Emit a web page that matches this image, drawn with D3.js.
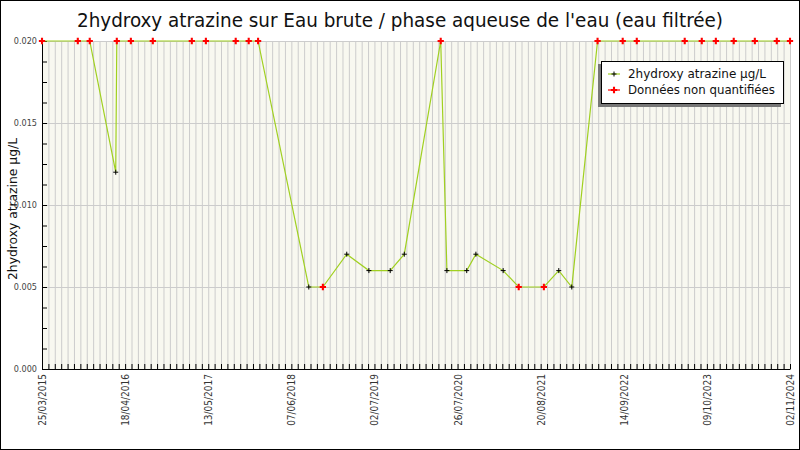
<!DOCTYPE html>
<html>
<head>
<meta charset="utf-8">
<script src="https://cdn.jsdelivr.net/npm/d3@7"></script>
<style>
  body { margin: 0; background: #fff; }
  svg { display: block; font-family: "DejaVu Sans", sans-serif; }
</style>
</head>
<body>
<div id="chart"></div>
<script>
// sample dates, values and whether the value was quantified (false = red "non quantifiée")
const sampleDates = [
  "2015-03-25", "2015-09-09", "2015-11-04", "2016-03-05", "2016-03-10",
  "2016-05-15", "2016-08-26", "2017-02-25", "2017-05-02", "2017-09-19",
  "2017-11-19", "2018-01-02", "2018-08-28", "2018-11-02", "2019-02-22",
  "2019-06-06", "2019-09-14", "2019-11-19", "2020-05-08", "2020-06-06",
  "2020-09-07", "2020-10-20", "2021-02-25", "2021-05-09", "2021-09-04",
  "2021-11-13", "2022-01-13", "2022-05-14", "2022-09-09", "2022-11-14",
  "2023-06-27", "2023-09-15", "2023-11-20", "2024-02-12", "2024-05-21",
  "2024-09-01", "2024-11-02"
];
const sampleValues = [
  0.020, 0.020, 0.020, 0.012, 0.020,
  0.020, 0.020, 0.020, 0.020, 0.020,
  0.020, 0.020, 0.005, 0.005, 0.007,
  0.006, 0.006, 0.007, 0.020, 0.006,
  0.006, 0.007, 0.006, 0.005, 0.005,
  0.006, 0.005, 0.020, 0.020, 0.020,
  0.020, 0.020, 0.020, 0.020, 0.020,
  0.020, 0.020
];
const quantified = [
  false, false, false, true, false,
  false, false, false, false, false,
  false, false, true, false, true,
  true, true, true, false, true,
  true, true, true, false, false,
  true, true, false, false, false,
  false, false, false, false, false,
  false, false
];
const xTickLabels = [
  "25/03/2015", "18/04/2016", "13/05/2017", "07/06/2018", "02/07/2019",
  "26/07/2020", "20/08/2021", "14/09/2022", "09/10/2023", "02/11/2024"
];
const yTicks = [0, 0.005, 0.010, 0.015, 0.020];

const WIDTH = 800;
const HEIGHT = 450;
const LEFT = 42, RIGHT = 790, TOP = 41, BOTTOM = 369;

const parseDate = d3.utcParse("%Y-%m-%d");
const parseLabel = d3.utcParse("%d/%m/%Y");
const fmtLabel = d3.utcFormat("%d/%m/%Y");

const data = sampleDates.map((d, i) => ({
  date: parseDate(d),
  value: sampleValues[i],
  q: quantified[i]
}));
const majorTicks = xTickLabels.map(parseLabel);
const start = majorTicks[0];
const end = majorTicks[majorTicks.length - 1];
// minor ticks every 30 days
const minorTicks = [];
for (let t = start; t <= end; t = d3.utcDay.offset(t, 30)) minorTicks.push(t);

const svg = d3.select("#chart").append("svg")
  .attr("width", WIDTH)
  .attr("height", HEIGHT);

svg.append("rect")
  .attr("x", 0.5).attr("y", 0.5)
  .attr("width", WIDTH - 1).attr("height", HEIGHT - 1)
  .attr("fill", "#fff").attr("stroke", "#000");

const xScale = d3.scaleUtc().domain([start, end]).range([LEFT, RIGHT]);
const yScale = d3.scaleLinear().domain([0, 0.02]).range([BOTTOM, TOP]);

// plot background
svg.append("rect")
  .attr("x", LEFT).attr("y", TOP)
  .attr("width", RIGHT - LEFT).attr("height", BOTTOM - TOP)
  .attr("fill", "#f8f8f0");

// vertical grid
svg.append("g")
  .attr("transform", `translate(0, ${BOTTOM})`)
  .call(d3.axisBottom(xScale).tickValues(minorTicks).tickSize(-(BOTTOM - TOP)).tickFormat(""))
  .call(g => g.select(".domain").remove())
  .call(g => g.selectAll("line").attr("stroke", "#cccccc"));

// horizontal grid
svg.append("g")
  .attr("transform", `translate(${LEFT}, 0)`)
  .call(d3.axisLeft(yScale).tickValues(yTicks.slice(1)).tickSize(-(RIGHT - LEFT)).tickFormat(""))
  .call(g => g.select(".domain").remove())
  .call(g => g.selectAll("line").attr("stroke", "#cccccc"));

// x axis: small inside ticks + rotated labels
svg.append("g")
  .attr("transform", `translate(0, ${BOTTOM})`)
  .call(d3.axisBottom(xScale).tickValues(minorTicks).tickSize(-5).tickSizeOuter(0).tickFormat(""))
  .call(g => g.select(".domain").attr("stroke", "#000"));

svg.append("g")
  .attr("transform", `translate(0, ${BOTTOM})`)
  .call(d3.axisBottom(xScale).tickValues(majorTicks).tickSize(0).tickFormat(fmtLabel))
  .call(g => g.select(".domain").remove())
  .call(g => g.selectAll("text")
    .attr("transform", "rotate(-90)")
    .attr("text-anchor", "end")
    .attr("x", -5).attr("y", 0).attr("dy", "0.35em")
    .attr("font-family", "DejaVu Sans Condensed, DejaVu Sans, sans-serif")
    .attr("font-size", 10)
    .attr("fill", "#333"));

// y axis
const yMinor = d3.range(0, 17).map(i => i * 0.00125);
svg.append("g")
  .attr("transform", `translate(${LEFT}, 0)`)
  .call(d3.axisLeft(yScale).tickValues(yMinor).tickSize(-5).tickSizeOuter(0).tickFormat(""))
  .call(g => g.select(".domain").attr("stroke", "#000"));

svg.append("g")
  .attr("transform", `translate(${LEFT}, 0)`)
  .call(d3.axisLeft(yScale).tickValues(yTicks).tickSize(0).tickPadding(5).tickFormat(d3.format(".3f")))
  .call(g => g.select(".domain").remove())
  .call(g => g.selectAll("text")
    .attr("font-family", "DejaVu Sans Condensed, DejaVu Sans, sans-serif")
    .attr("font-size", 9)
    .attr("fill", "#444"));

// line through all samples
const line = d3.line()
  .x(d => xScale(d.date))
  .y(d => yScale(d.value));

svg.append("path")
  .datum(data)
  .attr("d", line)
  .attr("fill", "none")
  .attr("stroke", "#a0d020")
  .attr("stroke-width", 1.2);

const plus = "M-2.5,0H2.5M0,-2.5V2.5";
const redMark = d3.symbol(d3.symbolCross, 22)();

svg.append("g").selectAll("path")
  .data(data)
  .enter()
  .append("path")
  .attr("transform", d => `translate(${xScale(d.date)}, ${yScale(d.value)})`)
  .attr("d", d => d.q ? plus : redMark)
  .attr("fill", d => d.q ? "none" : "#ff0000")
  .attr("stroke", d => d.q ? "#000" : "none")
  .attr("stroke-width", 1);

// title
svg.append("text")
  .attr("x", 400).attr("y", 27)
  .attr("text-anchor", "middle")
  .attr("font-family", "DejaVu Sans Condensed, DejaVu Sans, sans-serif")
  .attr("font-size", 20)
  .attr("textLength", 646)
  .attr("lengthAdjust", "spacingAndGlyphs")
  .attr("fill", "#111")
  .text("2hydroxy atrazine sur Eau brute / phase aqueuse de l'eau (eau filtrée)");

// y axis title
svg.append("text")
  .attr("transform", "translate(17, 209) rotate(-90)")
  .attr("text-anchor", "middle")
  .attr("font-family", "DejaVu Sans Condensed, DejaVu Sans, sans-serif")
  .attr("font-size", 13)
  .attr("textLength", 142)
  .attr("lengthAdjust", "spacingAndGlyphs")
  .attr("fill", "#111")
  .text("2hydroxy atrazine µg/L");

// legend
const legend = svg.append("g").attr("transform", "translate(601, 61)");
legend.append("rect")
  .attr("x", -3).attr("y", 3)
  .attr("width", 183).attr("height", 43)
  .attr("fill", "#777");
legend.append("rect")
  .attr("x", 0.5).attr("y", 0.5)
  .attr("width", 182).attr("height", 42)
  .attr("fill", "#fff").attr("stroke", "#000");

const legendItems = [
  { label: "2hydroxy atrazine µg/L", q: true, w: 138 },
  { label: "Données non quantifiées", q: false, w: 147 }
];
const li = legend.selectAll("g.item")
  .data(legendItems)
  .enter()
  .append("g")
  .attr("transform", (d, i) => `translate(0, ${13 + i * 16})`);
li.append("line")
  .attr("x1", 7).attr("x2", 19)
  .attr("stroke", d => d.q ? "#a0d020" : "#ff0000")
  .attr("stroke-width", 1.2);
li.append("path")
  .attr("transform", "translate(13, 0)")
  .attr("d", d => d.q ? plus : redMark)
  .attr("fill", d => d.q ? "none" : "#ff0000")
  .attr("stroke", d => d.q ? "#000" : "none")
  .attr("stroke-width", 1);
li.append("text")
  .attr("x", 27).attr("dy", "0.35em")
  .attr("font-family", "DejaVu Sans Condensed, DejaVu Sans, sans-serif")
  .attr("font-size", 12)
  .attr("textLength", d => d.w)
  .attr("lengthAdjust", "spacingAndGlyphs")
  .attr("fill", "#111")
  .text(d => d.label);
</script>
</body>
</html>
